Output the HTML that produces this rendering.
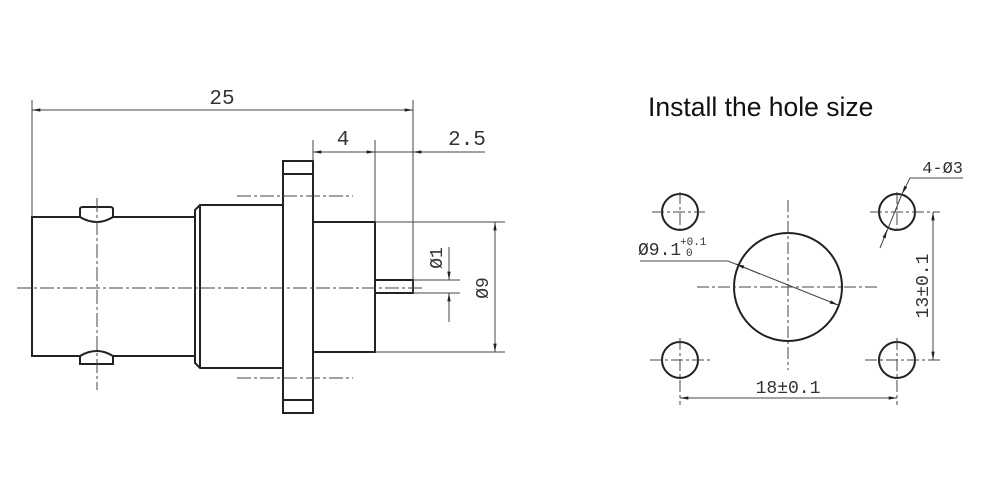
<!DOCTYPE html>
<html><head><meta charset="utf-8"><style>
html,body{margin:0;padding:0;background:#fff;width:1000px;height:495px;overflow:hidden}
svg{display:block}
.m{font-family:"Liberation Mono","DejaVu Sans Mono",monospace;fill:#333}
</style></head><body>
<svg width="1000" height="495" viewBox="0 0 1000 495" xmlns="http://www.w3.org/2000/svg">
<defs>
<marker id="a" viewBox="0 0 10 6" refX="10" refY="3" markerWidth="10" markerHeight="5" orient="auto-start-reverse" markerUnits="userSpaceOnUse"><path d="M0,1 L10,3 L0,5 Z" fill="#222"/></marker>
</defs>
<g stroke="#222" stroke-width="2" fill="none">
<rect x="32" y="217" width="163" height="139"/>
<path d="M80,217 L80,209 Q80,207 83,207 L110,207 Q113,207 113,209 L113,217 Q105,222 97,222 Q88,222 80,217Z" fill="#fff"/>
<path d="M80,356 L80,364 L113,364 L113,356 Q105,351 97,351 Q88,351 80,356Z" fill="#fff"/>
<path d="M200,205 L283,205 L283,368 L200,368 L195,363 L195,210 Z"/>
<line x1="200" y1="205" x2="200" y2="368"/>
<rect x="283" y="161" width="30" height="252"/>
<line x1="283" y1="174" x2="313" y2="174"/>
<line x1="283" y1="400" x2="313" y2="400"/>
<rect x="313" y="222" width="62" height="130"/>
<rect x="375" y="280" width="38" height="13"/>
</g>
<g stroke="#444" stroke-width="1" fill="none">
<line x1="17" y1="288" x2="423" y2="288" stroke-dasharray="14,3,3,3"/>
<line x1="97" y1="198" x2="97" y2="390" stroke-dasharray="14,3,3,3"/>
<line x1="237" y1="196" x2="353" y2="196" stroke-dasharray="14,3,3,3"/>
<line x1="237" y1="378" x2="353" y2="378" stroke-dasharray="14,3,3,3"/>
<line x1="32" y1="100" x2="32" y2="217"/>
<line x1="413" y1="100" x2="413" y2="293"/>
<line x1="32" y1="110" x2="413" y2="110" marker-start="url(#a)" marker-end="url(#a)"/>
<line x1="313" y1="140" x2="313" y2="161"/>
<line x1="375" y1="140" x2="375" y2="222"/>
<line x1="313" y1="152" x2="375" y2="152" marker-start="url(#a)" marker-end="url(#a)"/>
<line x1="375" y1="152" x2="485" y2="152"/>
<line x1="440" y1="152" x2="413" y2="152" marker-end="url(#a)"/>
<line x1="375" y1="222" x2="505" y2="222"/>
<line x1="375" y1="352" x2="505" y2="352"/>
<line x1="495" y1="222" x2="495" y2="352" marker-start="url(#a)" marker-end="url(#a)"/>
<line x1="413" y1="280" x2="460" y2="280"/>
<line x1="413" y1="293" x2="460" y2="293"/>
<line x1="449" y1="247" x2="449" y2="280" marker-end="url(#a)"/>
<line x1="449" y1="322" x2="449" y2="293" marker-end="url(#a)"/>
</g>
<text x="222" y="104" class="m" font-size="21" text-anchor="middle">25</text>
<text x="343" y="145" class="m" font-size="21" text-anchor="middle">4</text>
<text x="467" y="145" class="m" font-size="21" text-anchor="middle">2.5</text>
<text transform="translate(442,258) rotate(-90)" class="m" font-size="18" text-anchor="middle">Ø1</text>
<text transform="translate(488,288) rotate(-90)" class="m" font-size="18" text-anchor="middle">Ø9</text>

<text x="648" y="116" font-family="Liberation Sans, sans-serif" font-size="26.5" fill="#111">Install the hole size</text>
<g stroke="#222" stroke-width="2" fill="none">
<circle cx="788" cy="287" r="54"/>
<circle cx="680" cy="212" r="18"/>
<circle cx="897" cy="212" r="18"/>
<circle cx="680" cy="360" r="18"/>
<circle cx="897" cy="360" r="18"/>
</g>
<g stroke="#444" stroke-width="1" fill="none">
<g stroke-dasharray="12,3,3,3">
<line x1="697" y1="287" x2="880" y2="287"/>
<line x1="788" y1="200" x2="788" y2="370"/>
<line x1="652" y1="212" x2="705" y2="212"/>
<line x1="680" y1="192" x2="680" y2="232"/>
<line x1="870" y1="212" x2="940" y2="212"/>
<line x1="897" y1="192" x2="897" y2="232"/>
<line x1="650" y1="360" x2="710" y2="360"/>
<line x1="897" y1="338" x2="897" y2="405"/>
<line x1="865" y1="360" x2="940" y2="360"/>
<line x1="680" y1="338" x2="680" y2="405"/>
</g>
<line x1="933" y1="212" x2="933" y2="360" marker-start="url(#a)" marker-end="url(#a)"/>
<line x1="680" y1="398" x2="897" y2="398" marker-start="url(#a)" marker-end="url(#a)"/>
<polyline points="640,261 728,261 838,305" marker-end="url(#a)"/>
<line x1="760" y1="274" x2="736" y2="264" marker-end="url(#a)"/>
<line x1="963" y1="178" x2="910" y2="178"/>
<line x1="910" y1="178" x2="902" y2="194" marker-end="url(#a)"/>
<line x1="902" y1="194" x2="880" y2="248"/>
<line x1="884" y1="238" x2="887" y2="230" marker-end="url(#a)"/>
</g>
<text x="638" y="255" class="m" font-size="18">Ø9.1</text>
<text x="680" y="245" class="m" font-size="11">+0.1</text>
<text x="686" y="256" class="m" font-size="11">0</text>
<text x="963" y="173" class="m" font-size="17" text-anchor="end">4-Ø3</text>
<text x="788" y="393" class="m" font-size="18" text-anchor="middle">18±0.1</text>
<text transform="translate(928,286) rotate(-90)" class="m" font-size="18" text-anchor="middle">13±0.1</text>
</svg>
</body></html>
